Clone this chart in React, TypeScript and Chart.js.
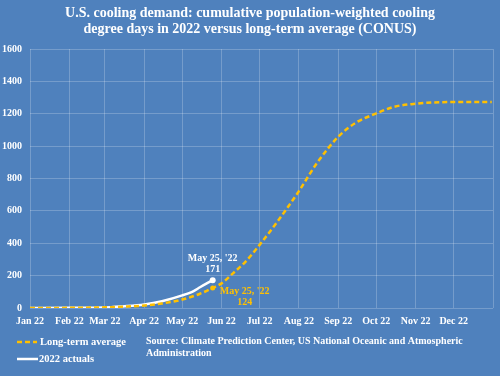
import React, { useEffect, useRef } from "react";
import { Chart, registerables } from "chart.js";

Chart.register(...registerables);

const TITLE_LINES = [
  "U.S. cooling demand: cumulative population-weighted cooling",
  "degree days in 2022 versus long-term average (CONUS)",
];
const SOURCE_LINES = [
  "Source: Climate Prediction Center, US National Oceanic and Atmospheric",
  "Administration",
];
const MONTH_LABELS = ["Jan 22", "Feb 22", "Mar 22", "Apr 22", "May 22", "Jun 22", "Jul 22", "Aug 22", "Sep 22", "Oct 22", "Nov 22", "Dec 22"];
const MONTH_STARTS = ["2022-01-01", "2022-02-01", "2022-03-01", "2022-04-01", "2022-05-01", "2022-06-01", "2022-07-01", "2022-08-01", "2022-09-01", "2022-10-01", "2022-11-01", "2022-12-01", "2023-01-01"];
const Y_TICKS = [0, 200, 400, 600, 800, 1000, 1200, 1400, 1600];

const AVG_LABEL = "Long-term average";
const AVG_DATES = ["2022-01-01", "2022-02-01", "2022-03-01", "2022-03-15", "2022-04-01", "2022-04-15", "2022-05-01", "2022-05-15", "2022-05-25", "2022-06-01", "2022-06-10", "2022-06-20", "2022-07-01", "2022-07-15", "2022-08-01", "2022-08-15", "2022-09-01", "2022-09-15", "2022-10-01", "2022-10-15", "2022-11-01", "2022-11-15", "2022-12-01", "2022-12-31"];
const AVG_VALUES = [0, 1, 4, 8, 15, 28, 52, 88, 124, 152, 214, 287, 390, 533, 722, 893, 1058, 1145, 1202, 1243, 1262, 1270, 1272, 1272];

const ACT_LABEL = "2022 actuals";
const ACT_DATES = ["2022-01-01", "2022-02-01", "2022-03-01", "2022-03-15", "2022-04-01", "2022-04-15", "2022-05-01", "2022-05-10", "2022-05-15", "2022-05-20", "2022-05-25"];
const ACT_VALUES = [0, 1, 3, 10, 22, 42, 78, 105, 128, 150, 171];

const MARK_DATE = "2022-05-25";
const MARK_TEXT = "May 25, '22";

const BG = "#4f81bd";
const GOLD = "#ffc000";
const FONT = "'Liberation Serif', 'Times New Roman', serif";

function dayOfYear(s: string): number {
  const d = Date.UTC(+s.slice(0, 4), +s.slice(5, 7) - 1, +s.slice(8, 10));
  return Math.round((d - Date.UTC(2022, 0, 1)) / 86400000);
}

export default function App() {
  const ref = useRef<HTMLCanvasElement | null>(null);
  useEffect(() => {
    if (!ref.current) return;
    const monthDays = MONTH_STARTS.map(dayOfYear);
    const markDay = dayOfYear(MARK_DATE);
    const avgData = AVG_DATES.map((d, i) => ({ x: dayOfYear(d), y: AVG_VALUES[i] }));
    const actData = ACT_DATES.map((d, i) => ({ x: dayOfYear(d), y: ACT_VALUES[i] }));
    const avgMarkIdx = avgData.findIndex((p) => p.x === markDay);
    const actMarkIdx = actData.findIndex((p) => p.x === markDay);

    const decor = {
      id: "decor",
      beforeDraw(chart: any) {
        const c = chart.ctx;
        c.save();
        c.fillStyle = BG;
        c.fillRect(0, 0, chart.width, chart.height);
        c.restore();
      },
      afterDraw(chart: any) {
        const c = chart.ctx;
        const xs = chart.scales.x;
        const ys = chart.scales.y;
        c.save();
        // title
        c.fillStyle = "#ffffff";
        c.font = `bold 14px ${FONT}`;
        c.textAlign = "center";
        c.textBaseline = "middle";
        TITLE_LINES.forEach((t, i) => c.fillText(t, 250, 13 + i * 16));
        // point labels
        c.font = `bold 10px ${FONT}`;
        const ax = xs.getPixelForValue(markDay);
        const ay = ys.getPixelForValue(ACT_VALUES[actMarkIdx]);
        c.fillStyle = "#ffffff";
        c.fillText(MARK_TEXT, ax, ay - 22);
        c.fillText(String(ACT_VALUES[actMarkIdx]), ax, ay - 11);
        const gx = xs.getPixelForValue(markDay);
        const gy = ys.getPixelForValue(AVG_VALUES[avgMarkIdx]);
        c.fillStyle = GOLD;
        c.fillText(MARK_TEXT, gx + 32, gy + 3);
        c.fillText(String(AVG_VALUES[avgMarkIdx]), gx + 32, gy + 14);
        // legend
        c.textAlign = "left";
        c.font = `bold 10.5px ${FONT}`;
        c.lineWidth = 2.5;
        c.strokeStyle = GOLD;
        c.setLineDash([5, 3]);
        c.beginPath();
        c.moveTo(17, 342);
        c.lineTo(37, 342);
        c.stroke();
        c.setLineDash([]);
        c.strokeStyle = "#ffffff";
        c.beginPath();
        c.moveTo(17, 359);
        c.lineTo(38, 359);
        c.stroke();
        c.fillStyle = "#ffffff";
        c.fillText(AVG_LABEL, 40, 342);
        c.fillText(ACT_LABEL, 39, 359);
        // source
        c.font = `bold 10px ${FONT}`;
        SOURCE_LINES.forEach((t, i) => c.fillText(t, 146, 341 + i * 12));
        c.restore();
      },
    };

    const chart = new Chart(ref.current, {
      type: "line",
      data: {
        datasets: [
          {
            label: AVG_LABEL,
            data: avgData,
            borderColor: GOLD,
            backgroundColor: GOLD,
            borderWidth: 2.5,
            borderDash: [5, 3],
            cubicInterpolationMode: "monotone",
            pointRadius: (ctx: any) => (ctx.dataIndex === avgMarkIdx ? 2.5 : 0),
            pointBorderWidth: 0,
          },
          {
            label: ACT_LABEL,
            data: actData,
            borderColor: "#ffffff",
            backgroundColor: "#ffffff",
            borderWidth: 2.5,
            cubicInterpolationMode: "monotone",
            pointRadius: (ctx: any) => (ctx.dataIndex === actMarkIdx ? 3 : 0),
            pointBorderWidth: 0,
          },
        ],
      },
      options: {
        responsive: false,
        animation: false,
        layout: { padding: { left: 0, right: 3, top: 49, bottom: 48 } },
        plugins: { legend: { display: false }, title: { display: false }, tooltip: { enabled: false } },
        scales: {
          x: {
            type: "linear",
            min: 0,
            max: 365,
            afterBuildTicks: (s: any) => {
              s.ticks = monthDays.map((v) => ({ value: v }));
            },
            afterFit: (s: any) => {
              s.height = 20;
            },
            grid: { color: "rgba(255,255,255,0.22)", lineWidth: 1, drawTicks: false },
            border: { display: false },
            ticks: {
              autoSkip: false,
              maxRotation: 0,
              padding: 7,
              color: "#ffffff",
              font: { family: FONT, size: 10, weight: "bold" },
              callback: (v: any) => {
                const i = monthDays.indexOf(v);
                return i >= 0 && i < MONTH_LABELS.length ? MONTH_LABELS[i] : "";
              },
            },
          },
          y: {
            min: 0,
            max: 1600,
            afterBuildTicks: (s: any) => {
              s.ticks = Y_TICKS.map((v) => ({ value: v }));
            },
            afterFit: (s: any) => {
              s.width = 30;
            },
            grid: { color: "rgba(255,255,255,0.22)", lineWidth: 1, drawTicks: false },
            border: { display: false },
            ticks: {
              padding: 8,
              color: "#ffffff",
              font: { family: FONT, size: 10, weight: "bold" },
              callback: (v: any) => String(v),
            },
          },
        },
      },
      plugins: [decor],
    } as any);
    return () => chart.destroy();
  }, []);
  return (
    <div style={{ position: "absolute", left: 0, top: 0, width: 500, height: 376 }}>
      <canvas ref={ref} width={500} height={376} />
    </div>
  );
}
